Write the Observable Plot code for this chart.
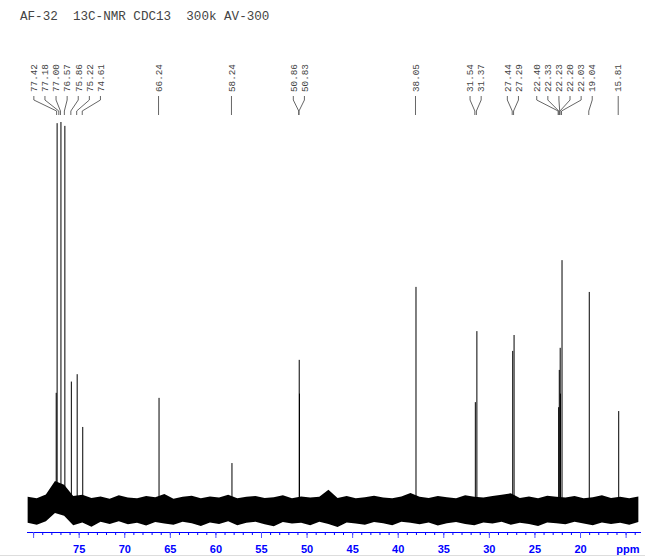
<!DOCTYPE html>
<html><head><meta charset="utf-8">
<script src="https://cdn.jsdelivr.net/npm/d3@7"></script>
<script src="https://cdn.jsdelivr.net/npm/@observablehq/plot@0.6"></script>
<style>
body{margin:0;background:#fff;}
#wrap{position:relative;width:645px;height:558px;}
#wrap svg{position:absolute;left:0;top:0;}
#title{position:absolute;left:20px;top:10px;font:12.6px "Liberation Mono",monospace;color:#444;white-space:pre;z-index:2;}
#edge{position:absolute;left:0;top:555px;width:645px;height:1px;background:#ddd;}
</style></head><body>
<div id="wrap"><div id="title"></div><div id="edge"></div></div>
<script>
const title = "AF-32  13C-NMR CDC13  300k AV-300";
// peaks (ppm, relative height; tallest = 100)
const peakPpm    = [77.52, 77.42, 77.00, 76.57, 75.86, 75.22, 74.61, 66.24, 58.24, 50.86, 50.83, 38.05, 31.54, 31.37, 27.44, 27.29, 22.40, 22.33, 22.23, 22.20, 22.03, 19.04, 15.81];
const peakHeight = [30.2, 99.7, 100, 99, 33.1, 35, 21.4, 28.9, 12.1, 38.7, 30, 57.5, 27.8, 46.1, 41, 45.1, 26.5, 36.1, 41.8, 30, 64.4, 56.2, 25.5];
// peak-pick labels
const labelPpm = [77.42, 77.18, 77.00, 76.57, 75.86, 75.22, 74.61, 66.24, 58.24, 50.86, 50.83, 38.05, 31.54, 31.37, 27.44, 27.29, 22.40, 22.33, 22.23, 22.20, 22.03, 19.04, 15.81];
// baseline noise envelope, read every 1 ppm from 80.6 to 13.6
const noisePpm = d3.range(80.6, 13.55, -1);
const noiseTop = [
  3.4, 3.0, 4.0, 7.5, 6.5, 3.6, 3.9, 3.1, 3.5, 2.9,
  3.8, 3.2, 3.0, 3.6, 3.3, 4.1, 2.9, 3.4, 3.7, 3.0,
  3.5, 3.2, 3.9, 3.0, 3.4, 3.6, 3.1, 3.3, 3.8, 3.0,
  3.5, 3.2, 3.4, 5.2, 3.1, 3.6, 3.0, 3.3, 3.7, 3.2,
  3.0, 3.5, 4.4, 3.4, 3.1, 3.6, 3.3, 3.0, 3.8, 3.4,
  3.2, 3.6, 3.9, 4.3, 3.1, 3.5, 3.0, 3.7, 3.4, 3.2,
  3.6, 3.0, 3.3, 3.8, 3.1, 3.4, 3.0, 3.5];
const noiseBottom = [
  -3.3, -3.8, -2.9, -0.8, -1.5, -3.9, -3.2, -4.3, -3.0, -3.6,
  -2.9, -3.7, -3.3, -4.0, -3.1, -3.5, -3.8, -3.0, -3.4, -4.1,
  -3.2, -3.6, -2.9, -3.9, -3.3, -3.0, -3.7, -4.2, -3.1, -3.5,
  -3.3, -3.9, -3.0, -3.6, -4.4, -3.2, -3.5, -3.8, -3.1, -3.4,
  -3.9, -3.0, -3.3, -3.7, -3.2, -4.0, -3.4, -3.1, -3.6, -3.9,
  -3.2, -3.5, -3.0, -3.8, -3.3, -3.6, -4.1, -3.2, -3.4, -3.7,
  -3.0, -3.5, -3.9, -3.2, -3.6, -3.3, -3.8, -3.1];
// axis ticks
const minorTicks = d3.range(14, 81, 1);
const majorTicks = d3.range(15, 81, 5);
const tickLabels = [75, 70, 65, 60, 55, 50, 45, 40, 35, 30, 25, 20];

document.getElementById("title").textContent = title;

const peaks = peakPpm.map((p, i) => ({ppm: p, h: peakHeight[i]}));
const noise = noisePpm.map((p, i) => ({ppm: p, top: noiseTop[i], bottom: noiseBottom[i]}));

function peakLabels(index, scales) {
  const px = labelPpm.map(v => scales.x(v));
  const gap = 11.1;
  let groups = px.map(p => ({n: 1, sum: p}));
  const center = g => g.sum / g.n;
  let merged = true;
  while (merged) {
    merged = false;
    for (let k = 0; k < groups.length - 1; k++) {
      const a = groups[k], b = groups[k + 1];
      const aLast = center(a) + (a.n - 1) / 2 * gap;
      const bFirst = center(b) - (b.n - 1) / 2 * gap;
      if (bFirst - aLast < gap) {
        groups.splice(k, 2, {n: a.n + b.n, sum: a.sum + b.sum});
        merged = true; break;
      }
    }
  }
  const lx = [];
  for (const g of groups) for (let j = 0; j < g.n; j++) lx.push(center(g) + (j - (g.n - 1) / 2) * gap);
  const g = d3.create("svg:g");
  g.selectAll("path").data(labelPpm).join("path")
    .attr("d", (d, i) => `M${lx[i]},96V100L${px[i]},111V115`)
    .attr("fill", "none").attr("stroke", "#555").attr("stroke-width", 0.9);
  g.selectAll("text").data(labelPpm).join("text")
    .attr("transform", (d, i) => `translate(${lx[i]},92) rotate(-90)`)
    .attr("dy", "0.35em")
    .attr("text-anchor", "start")
    .attr("font-family", "Liberation Mono, monospace")
    .attr("font-size", 9.3)
    .attr("fill", "#444")
    .text(d => d.toFixed(2));
  return g.node();
}

const chart = Plot.plot({
  width: 645,
  height: 558,
  marginLeft: 27,
  marginRight: 5,
  marginTop: 20,
  marginBottom: 26,
  style: {fontFamily: "Liberation Sans, Arial, sans-serif", background: "transparent", overflow: "visible"},
  x: {domain: [80.67, 13.42]},
  y: {domain: [0, 100], range: [510, 122], axis: null},
  marks: [
    Plot.areaY(noise, {x: "ppm", y1: "bottom", y2: "top", fill: "#000", curve: "linear"}),
    Plot.ruleX(peaks, {x: "ppm", y1: 0, y2: "h", stroke: "#000", strokeWidth: 1}),
    peakLabels,
    Plot.frame({anchor: "bottom", stroke: "#0000ff"}),
    Plot.axisX({ticks: minorTicks, tickSize: 3, tickFormat: () => "", stroke: "#0000ff", label: null}),
    Plot.axisX({ticks: majorTicks, tickSize: 6, tickFormat: () => "", stroke: "#5555ff", label: null}),
    Plot.axisX({ticks: tickLabels, tickSize: 0, tickPadding: 13, fill: "#0000ff", fontWeight: "bold", fontSize: 11, label: null}),
    Plot.text(["ppm"], {text: d => d, frameAnchor: "bottom-right", textAnchor: "end", lineAnchor: "top", dx: -1, dy: 13, fill: "#0000ff", fontWeight: "bold", fontSize: 11})
  ]
});
document.getElementById("wrap").appendChild(chart);
</script>
</body></html>
